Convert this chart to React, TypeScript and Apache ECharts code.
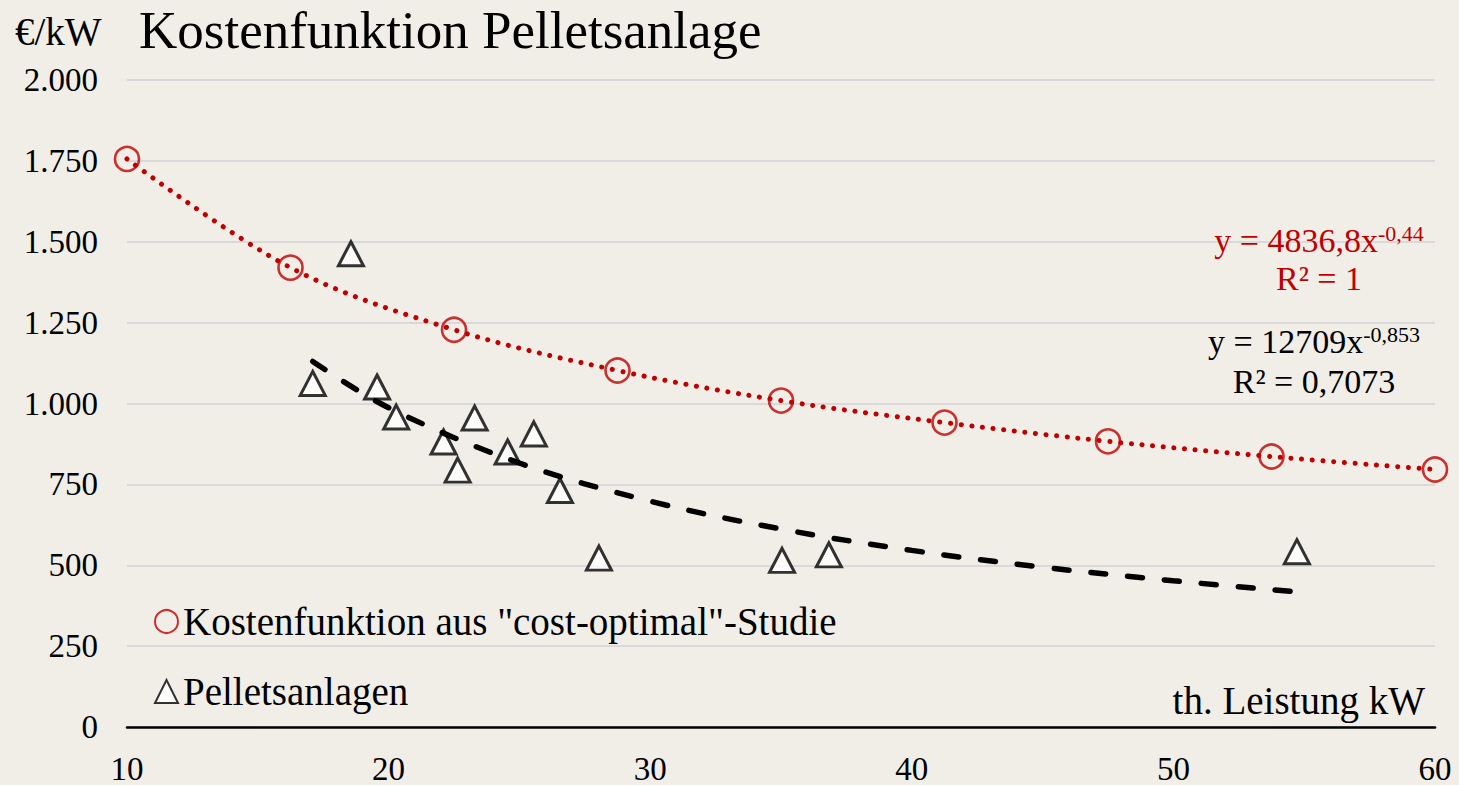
import React, { useEffect, useRef } from 'react';
import * as echarts from 'echarts';

const FONT = '"Liberation Serif", "Times New Roman", serif';
const RED = '#c00000';

// Kostenfunktion aus "cost-optimal"-Studie (red circles)
const costX = [10, 16.25, 22.5, 28.75, 35, 41.25, 47.5, 53.75, 60];
const costY = [1756, 1420, 1228, 1102, 1009, 941, 883, 836, 796];

// Pelletsanlagen (triangles)
const plantX = [17.1, 18.56, 19.56, 20.29, 22.1, 22.64, 23.29, 24.55, 25.55, 26.55, 28.04, 35.04, 36.83, 54.72];
const plantY = [1062, 1463, 1051, 958, 881, 794, 955, 850, 906, 731, 522, 515, 532, 542];

// dashed power trend line of the Pelletsanlagen
const trendX = [17.1, 20, 25, 30, 35, 40, 45, 50, 54.7];
const trendY = [1130, 987, 816, 698, 612, 546, 494, 452, 418];

const yTickLabels = ['0', '250', '500', '750', '1.000', '1.250', '1.500', '1.750', '2.000'];
const xTickLabels = ['10', '20', '30', '40', '50', '60'];

const costName = 'Kostenfunktion aus "cost-optimal"-Studie';
const plantName = 'Pelletsanlagen';

const zip = (xs: number[], ys: number[]) => xs.map((x, i) => [x, ys[i]]);

export default function App() {
  const ref = useRef<HTMLDivElement>(null);
  useEffect(() => {
    const chart = echarts.init(ref.current!, null, { renderer: 'svg' });
    const eq = (x: number, y: number, main: string, sup: string, color: string) => ({
      type: 'text',
      x,
      y,
      z: 100,
      style: {
        text: sup ? `{a|${main}}{s|${sup}}` : `{a|${main}}`,
        align: 'center',
        verticalAlign: 'middle',
        fill: color,
        rich: {
          a: { fontSize: 34, lineHeight: 35, fontFamily: FONT, fill: color },
          s: { fontSize: 22, lineHeight: 22, fontFamily: FONT, fill: color, verticalAlign: 'top' },
        },
      },
    });
    chart.setOption({
      animation: false,
      backgroundColor: '#f1eee8',
      grid: { left: 127, right: 24, top: 80, bottom: 55, containLabel: false },
      xAxis: {
        type: 'value',
        min: 10,
        max: 60,
        interval: 10,
        axisLine: { show: true, onZero: false, lineStyle: { color: '#000', width: 2.5 } },
        axisTick: { show: false },
        splitLine: { show: false },
        axisLabel: {
          margin: 25,
          fontSize: 33,
          fontFamily: FONT,
          color: '#000',
          formatter: (v: number) => xTickLabels[Math.round((v - 10) / 10)] ?? '',
        },
      },
      yAxis: {
        type: 'value',
        min: 0,
        max: 2000,
        interval: 250,
        axisLine: { show: false },
        axisTick: { show: false },
        splitLine: { show: true, lineStyle: { color: '#d9d9d9', width: 2 } },
        axisLabel: {
          margin: 29,
          fontSize: 33,
          fontFamily: FONT,
          color: '#000',
          formatter: (v: number) => yTickLabels[Math.round(v / 250)] ?? '',
        },
      },
      legend: {
        data: [costName, plantName],
        orient: 'vertical',
        left: 154,
        top: 602,
        padding: 0,
        itemWidth: 23,
        itemHeight: 23,
        itemGap: 31,
        selectedMode: false,
        textStyle: { fontFamily: FONT, fontSize: 39, color: '#000', lineHeight: 39 },
      },
      series: [
        {
          name: 'costTrend',
          type: 'line',
          data: zip(costX, costY),
          smooth: 0.35,
          symbol: 'none',
          z: 2,
          lineStyle: { color: RED, width: 5, type: [0.1, 10.6], cap: 'round' },
        },
        {
          name: costName,
          type: 'scatter',
          data: zip(costX, costY),
          symbol: 'circle',
          symbolSize: 24,
          z: 3,
          itemStyle: { color: 'rgba(0,0,0,0)', borderColor: RED, borderWidth: 2.6 },
        },
        {
          name: plantName,
          type: 'scatter',
          data: zip(plantX, plantY),
          symbol: 'triangle',
          symbolSize: [25, 24],
          z: 4,
          itemStyle: { color: '#ffffff', borderColor: '#000000', borderWidth: 3 },
        },
        {
          name: 'plantTrend',
          type: 'line',
          data: zip(trendX, trendY),
          smooth: 0.35,
          symbol: 'none',
          z: 5,
          lineStyle: { color: '#000', width: 5.5, type: [15, 22], cap: 'round' },
        },
      ],
      graphic: [
        {
          type: 'text',
          x: 15,
          y: 31,
          style: { text: '€/kW', fontSize: 39, fontFamily: FONT, fill: '#000', align: 'left', verticalAlign: 'middle' },
        },
        {
          type: 'text',
          x: 139,
          y: 30,
          style: {
            text: 'Kostenfunktion Pelletsanlage',
            fontSize: 53,
            fontFamily: FONT,
            fill: '#000',
            align: 'left',
            verticalAlign: 'middle',
          },
        },
        {
          type: 'text',
          x: 1425,
          y: 700,
          style: {
            text: 'th. Leistung kW',
            fontSize: 39,
            fontFamily: FONT,
            fill: '#000',
            align: 'right',
            verticalAlign: 'middle',
          },
        },
        eq(1319, 240, 'y = 4836,8x', '-0,44', RED),
        eq(1319, 278, 'R² = 1', '', RED),
        eq(1314, 341, 'y = 12709x', '-0,853', '#000'),
        eq(1314, 381, 'R² = 0,7073', '', '#000'),
      ],
    });
    return () => chart.dispose();
  }, []);
  return <div ref={ref} style={{ position: 'absolute', left: 0, top: 0, width: 1459, height: 785 }} />;
}
